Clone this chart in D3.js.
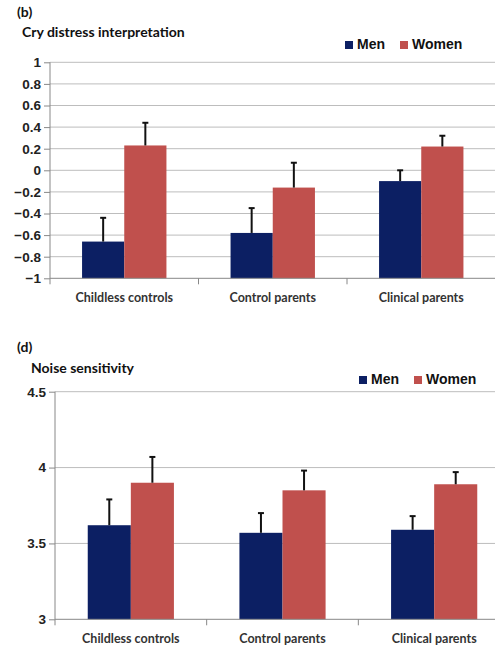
<!DOCTYPE html>
<html lang="en">
<head>
<meta charset="UTF-8" />
<title>Cry distress and noise sensitivity</title>
<script src="https://cdn.jsdelivr.net/npm/d3@7"></script>
<style>
  body { margin: 0; background: #fff; }
  svg { display: block; font-family: Lato, "Open Sans", sans-serif; }
  .tick text { font-weight: bold; fill: #222; }
</style>
</head>
<body>
<div id="chart"></div>
<script>
var groups = ["Childless controls", "Control parents", "Clinical parents"];
var sexes = ["Men", "Women"];
var colors = ["#0c1f63", "#c0504d"];

// panel (b) cry distress interpretation
var cryMen = [-0.66, -0.58, -0.10];
var cryWomen = [0.23, -0.16, 0.22];
var cryMenErr = [0.22, 0.23, 0.10];
var cryWomenErr = [0.21, 0.23, 0.10];
var cryTicks = [1, 0.8, 0.6, 0.4, 0.2, 0, -0.2, -0.4, -0.6, -0.8, -1];

// panel (d) noise sensitivity
var noiseMen = [3.62, 3.57, 3.59];
var noiseWomen = [3.90, 3.85, 3.89];
var noiseMenErr = [0.17, 0.13, 0.09];
var noiseWomenErr = [0.17, 0.13, 0.08];
var noiseTicks = [3, 3.5, 4, 4.5];

var svg = d3.select("#chart").append("svg")
  .attr("width", 495)
  .attr("height", 645);

function panel(opt) {
  var g = svg.append("g");
  var x = d3.scaleBand().domain(groups).range([opt.left, opt.right]);
  var inner = d3.scaleBand().domain(sexes)
    .range([0, x.bandwidth()]).paddingOuter(0.76).paddingInner(0);
  var y = d3.scaleLinear().domain(opt.domain).range([opt.bottom, opt.top]);

  // grid
  g.selectAll(".grid").data(opt.grid).enter().append("line")
    .attr("x1", opt.left).attr("x2", opt.right)
    .attr("y1", function(d){ return y(d); })
    .attr("y2", function(d){ return y(d); })
    .attr("stroke", "#bdbdbd").attr("stroke-width", 1);

  var rows = [];
  groups.forEach(function(gr, i){
    rows.push({g: gr, s: "Men", v: opt.men[i], e: opt.menErr[i], c: colors[0]});
    rows.push({g: gr, s: "Women", v: opt.women[i], e: opt.womenErr[i], c: colors[1]});
  });

  var base = opt.domain[0];
  g.selectAll(".bar").data(rows).enter().append("rect")
    .attr("x", function(d){ return x(d.g) + inner(d.s); })
    .attr("width", inner.bandwidth())
    .attr("y", function(d){ return y(d.v); })
    .attr("height", function(d){ return y(base) - y(d.v); })
    .attr("fill", function(d){ return d.c; });

  // error bars (upper only)
  var cx = function(d){ return x(d.g) + inner(d.s) + inner.bandwidth() / 2; };
  g.selectAll(".err").data(rows).enter().append("line")
    .attr("x1", cx).attr("x2", cx)
    .attr("y1", function(d){ return y(d.v); })
    .attr("y2", function(d){ return y(d.v + d.e); })
    .attr("stroke", "#111").attr("stroke-width", 2);
  g.selectAll(".cap").data(rows).enter().append("line")
    .attr("x1", function(d){ return cx(d) - 3; })
    .attr("x2", function(d){ return cx(d) + 3; })
    .attr("y1", function(d){ return y(d.v + d.e); })
    .attr("y2", function(d){ return y(d.v + d.e); })
    .attr("stroke", "#111").attr("stroke-width", 2);

  // axes
  var yAxis = d3.axisLeft(y).tickValues(opt.ticks).tickSize(6).tickPadding(3)
    .tickFormat(function(d){ return String(d).replace("-", "\u2212"); });
  var ya = g.append("g").attr("transform", "translate(" + opt.left + ",0)").call(yAxis);
  ya.select(".domain").attr("stroke", "#888").attr("d", "M0," + opt.bottom + "V" + opt.top);
  ya.selectAll(".tick line").attr("stroke", "#888");
  ya.selectAll(".tick text").attr("font-size", 13.5);

  var xa = g.append("g").attr("transform", "translate(0," + opt.bottom + ")");
  xa.append("line").attr("x1", opt.left).attr("x2", opt.right)
    .attr("stroke", "#888").attr("stroke-width", 1);
  xa.selectAll(".xt").data(groups).enter().append("line")
    .attr("x1", function(d){ return x(d); })
    .attr("x2", function(d){ return x(d); })
    .attr("y1", 0).attr("y2", 6)
    .attr("stroke", "#888");
  xa.selectAll(".xl").data(groups).enter().append("text")
    .attr("x", function(d){ return x(d) + x.bandwidth() / 2; })
    .attr("y", opt.labelDy)
    .attr("text-anchor", "middle")
    .attr("font-size", 12.5).attr("font-weight", "bold").attr("fill", "#333")
    .text(function(d){ return d; });

  // titles
  g.append("text").attr("x", 17).attr("y", opt.letterY)
    .attr("font-size", 14).attr("font-weight", "bold").attr("fill", "#111")
    .text(opt.letter);
  g.append("text").attr("x", opt.titleX).attr("y", opt.titleY)
    .attr("font-size", 14).attr("font-weight", "bold").attr("fill", "#111")
    .text(opt.title);

  // legend
  var lg = g.append("g").attr("transform", "translate(" + opt.legX + "," + opt.legY + ")");
  var offs = [0, 55];
  sexes.forEach(function(s, i){
    lg.append("rect").attr("x", offs[i]).attr("y", -8).attr("width", 8).attr("height", 8)
      .attr("fill", colors[i]);
    lg.append("text").attr("x", offs[i] + 12).attr("y", 0)
      .attr("font-family", "Liberation Sans, Arial, sans-serif")
      .attr("font-size", 14).attr("font-weight", "bold").attr("fill", "#111")
      .text(s);
  });
}

panel({
  left: 50, right: 495.5, top: 62.3, bottom: 278.3, domain: [-1, 1],
  ticks: cryTicks, grid: cryTicks.slice(0, 10),
  men: cryMen, women: cryWomen, menErr: cryMenErr, womenErr: cryWomenErr,
  labelDy: 24, letter: "(b)", letterY: 17, title: "Cry distress interpretation",
  titleX: 22, titleY: 37, legX: 345, legY: 49
});

panel({
  left: 55, right: 510, top: 391.7, bottom: 619.3, domain: [3, 4.5],
  ticks: noiseTicks, grid: [3.5, 4, 4.5],
  men: noiseMen, women: noiseWomen, menErr: noiseMenErr, womenErr: noiseWomenErr,
  labelDy: 24, letter: "(d)", letterY: 352, title: "Noise sensitivity",
  titleX: 31, titleY: 373, legX: 359, legY: 384
});
</script>
</body>
</html>
